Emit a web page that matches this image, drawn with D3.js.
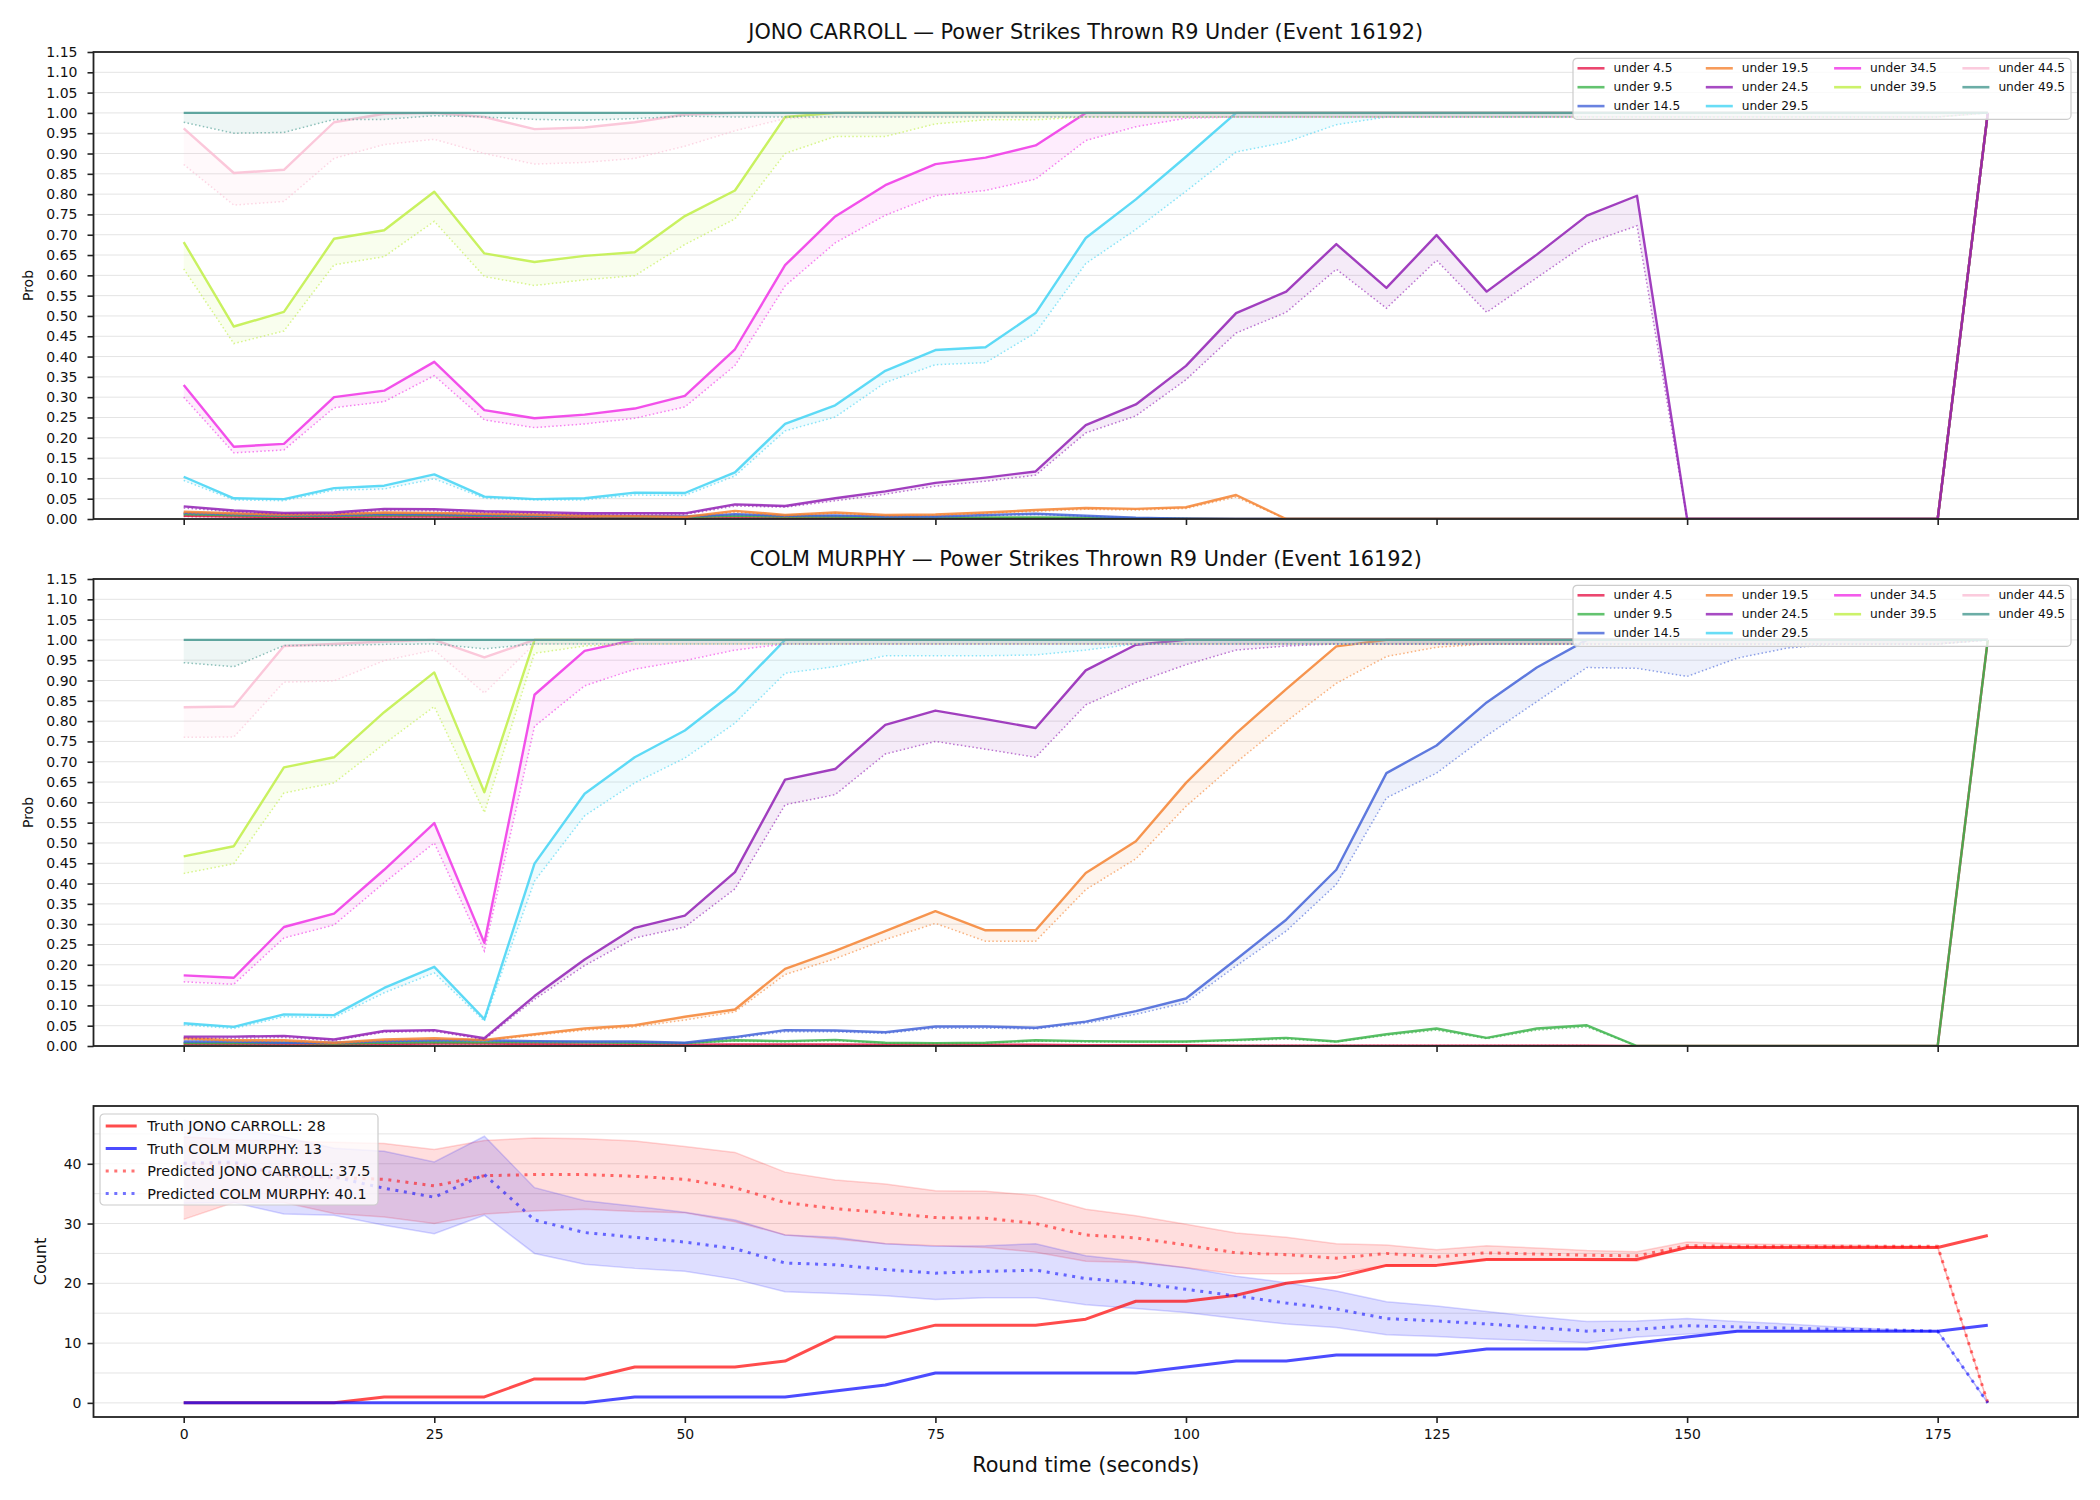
<!DOCTYPE html>
<html>
<head>
<meta charset="utf-8">
<script src="https://cdn.jsdelivr.net/npm/d3@7"></script>
<style>
  body { margin: 0; background: #fff; }
  svg text { font-family: "DejaVu Sans", sans-serif; fill: #111; }
</style>
</head>
<body>
<svg id="chart" width="2100" height="1500"></svg>
<script>
// Round time (seconds) and tick labels
const times = [0,5,10,15,20,25,30,35,40,45,50,55,60,65,70,75,80,85,90,95,100,105,110,115,120,125,130,135,140,145,150,155,160,165,170,175,180];
const xTicks = [0,25,50,75,100,125,150,175];
const probTicks = [0,0.05,0.10,0.15,0.20,0.25,0.30,0.35,0.40,0.45,0.50,0.55,0.60,0.65,0.70,0.75,0.80,0.85,0.90,0.95,1.00,1.05,1.10,1.15];
const countTicks = [0,10,20,30,40];
const countGrid = [0,5,10,15,20,25,30,35,40,45];

const thresholds = ["under 4.5","under 9.5","under 14.5","under 19.5","under 24.5","under 29.5","under 34.5","under 39.5","under 44.5","under 49.5"];
const thresholdColors = ["#e6194b","#3cb44b","#4363d8","#f58231","#911eb4","#42d4f4","#f032e6","#bfef45","#fabed4","#469990"];

// JONO CARROLL - solid line and dotted line per threshold
const jonoU4 = [0.008,0.006,0.005,0.005,0.006,0.006,0.005,0.004,0.004,0.003,0.003,0.004,0.003,0.003,0.002,0.002,0.002,0.002,0.001,0.001,0.001,0,0,0,0,0,0,0,0,0,0,0,0,0,0,0,1];
const jonoU4Dot = [0.006,0.005,0.004,0.004,0.005,0.005,0.004,0.003,0.003,0.002,0.002,0.003,0.002,0.002,0.001,0.001,0.001,0.001,0.001,0,0,0,0,0,0,0,0,0,0,0,0,0,0,0,0,0,1];
const jonoU9 = [0.012,0.009,0.008,0.008,0.010,0.010,0.008,0.007,0.007,0.006,0.005,0.008,0.006,0.006,0.004,0.004,0.004,0.004,0.003,0.002,0.001,0,0,0,0,0,0,0,0,0,0,0,0,0,0,0,1];
const jonoU9Dot = [0.010,0.008,0.006,0.007,0.008,0.008,0.007,0.006,0.006,0.005,0.004,0.007,0.005,0.005,0.003,0.003,0.003,0.003,0.002,0.001,0.001,0,0,0,0,0,0,0,0,0,0,0,0,0,0,0,1];
const jonoU14 = [0.015,0.012,0.010,0.010,0.013,0.012,0.010,0.009,0.008,0.007,0.006,0.012,0.008,0.009,0.006,0.006,0.010,0.013,0.008,0.003,0.001,0,0,0,0,0,0,0,0,0,0,0,0,0,0,0,1];
const jonoU14Dot = [0.013,0.010,0.008,0.008,0.011,0.010,0.008,0.007,0.007,0.006,0.005,0.010,0.007,0.008,0.005,0.005,0.008,0.011,0.007,0.002,0.001,0,0,0,0,0,0,0,0,0,0,0,0,0,0,0,1];
const jonoU19 = [0.018,0.014,0.011,0.012,0.016,0.015,0.013,0.011,0.008,0.007,0.005,0.020,0.010,0.016,0.010,0.011,0.016,0.022,0.027,0.025,0.029,0.059,0,0,0,0,0,0,0,0,0,0,0,0,0,0,1];
const jonoU19Dot = [0.015,0.012,0.009,0.010,0.014,0.013,0.011,0.009,0.007,0.006,0.004,0.017,0.008,0.014,0.008,0.009,0.014,0.019,0.024,0.022,0.026,0.054,0,0,0,0,0,0,0,0,0,0,0,0,0,0,1];
const jonoU24 = [0.031,0.021,0.015,0.016,0.025,0.024,0.019,0.017,0.014,0.014,0.014,0.036,0.032,0.051,0.068,0.089,0.102,0.117,0.231,0.282,0.377,0.507,0.560,0.677,0.569,0.699,0.560,0.651,0.747,0.796,0,0,0,0,0,0,1];
const jonoU24Dot = [0.027,0.018,0.012,0.013,0.021,0.020,0.016,0.014,0.011,0.011,0.011,0.032,0.029,0.045,0.061,0.081,0.093,0.108,0.212,0.254,0.343,0.458,0.509,0.615,0.519,0.637,0.509,0.594,0.679,0.722,0,0,0,0,0,0,1];
const jonoU29 = [0.104,0.051,0.049,0.076,0.082,0.110,0.055,0.049,0.051,0.065,0.064,0.115,0.234,0.280,0.365,0.416,0.423,0.507,0.692,0.787,0.892,1,1,1,1,1,1,1,1,1,1,1,1,1,1,1,1];
const jonoU29Dot = [0.095,0.047,0.045,0.071,0.074,0.099,0.051,0.047,0.047,0.059,0.058,0.106,0.217,0.251,0.336,0.380,0.385,0.459,0.629,0.713,0.807,0.904,0.928,0.971,0.99,0.99,0.99,0.99,0.99,0.99,0.99,0.99,0.99,0.99,0.99,0.99,1];
const jonoU34 = [0.330,0.178,0.185,0.300,0.316,0.387,0.268,0.248,0.257,0.272,0.303,0.418,0.625,0.745,0.822,0.874,0.890,0.920,1,1,1,1,1,1,1,1,1,1,1,1,1,1,1,1,1,1,1];
const jonoU34Dot = [0.300,0.163,0.170,0.274,0.289,0.353,0.244,0.225,0.234,0.248,0.276,0.378,0.574,0.680,0.748,0.796,0.809,0.837,0.932,0.966,0.987,0.99,0.99,0.99,0.99,0.99,0.99,0.99,0.99,0.99,0.99,0.99,0.99,0.99,0.99,0.99,1];
const jonoU39 = [0.682,0.474,0.510,0.690,0.711,0.806,0.654,0.633,0.648,0.657,0.746,0.809,0.990,1,1,1,1,1,1,1,1,1,1,1,1,1,1,1,1,1,1,1,1,1,1,1,1];
const jonoU39Dot = [0.616,0.432,0.463,0.626,0.646,0.733,0.597,0.575,0.589,0.599,0.676,0.739,0.900,0.942,0.942,0.973,0.983,0.983,0.99,0.99,0.99,0.99,0.99,0.99,0.99,0.99,0.99,0.99,0.99,0.99,0.99,0.99,0.99,0.99,0.99,0.99,1];
const jonoU44 = [0.962,0.852,0.860,0.977,0.998,1,0.990,0.960,0.964,0.977,0.996,1,1,1,1,1,1,1,1,1,1,1,1,1,1,1,1,1,1,1,1,1,1,1,1,1,1];
const jonoU44Dot = [0.873,0.773,0.782,0.888,0.922,0.935,0.900,0.874,0.878,0.888,0.918,0.956,0.986,0.99,0.99,0.99,0.99,0.99,0.99,0.99,0.99,0.99,0.99,0.99,0.99,0.99,0.99,0.99,0.99,0.99,0.99,0.99,0.99,0.99,0.99,0.99,1];
const jonoU49 = [1,1,1,1,1,1,1,1,1,1,1,1,1,1,1,1,1,1,1,1,1,1,1,1,1,1,1,1,1,1,1,1,1,1,1,1,1];
const jonoU49Dot = [0.977,0.950,0.952,0.984,0.984,0.993,0.990,0.984,0.982,0.986,0.992,0.99,0.99,0.99,0.99,0.99,0.99,0.99,0.99,0.99,0.99,0.99,0.99,0.99,0.99,0.99,0.99,0.99,0.99,0.99,0.99,0.99,0.99,0.99,0.99,0.99,1];

// COLM MURPHY - solid line and dotted line per threshold
const colmU4 = [0.005,0.005,0.005,0.004,0.005,0.006,0.006,0.005,0.004,0.004,0.003,0.004,0.004,0.004,0.003,0.003,0.003,0.003,0.002,0.002,0.002,0.001,0.001,0.001,0.001,0.001,0.001,0.001,0.001,0,0,0,0,0,0,0,1];
const colmU4Dot = [0.004,0.004,0.004,0.003,0.004,0.005,0.005,0.004,0.003,0.003,0.002,0.003,0.003,0.003,0.002,0.002,0.002,0.002,0.001,0.001,0.001,0.001,0.001,0.001,0.001,0.001,0.001,0.001,0.001,0,0,0,0,0,0,0,1];
const colmU9 = [0.007,0.007,0.008,0.006,0.008,0.010,0.009,0.010,0.009,0.008,0.007,0.014,0.012,0.015,0.008,0.007,0.008,0.014,0.012,0.011,0.011,0.015,0.020,0.011,0.029,0.043,0.020,0.043,0.051,0,0,0,0,0,0,0,1];
const colmU9Dot = [0.006,0.006,0.007,0.005,0.007,0.008,0.008,0.008,0.008,0.007,0.006,0.012,0.010,0.013,0.007,0.006,0.007,0.012,0.010,0.010,0.010,0.013,0.017,0.010,0.026,0.039,0.018,0.039,0.047,0,0,0,0,0,0,0,1];
const colmU14 = [0.011,0.011,0.008,0.008,0.012,0.014,0.014,0.012,0.011,0.011,0.008,0.022,0.039,0.038,0.034,0.048,0.048,0.045,0.060,0.086,0.117,0.213,0.311,0.434,0.672,0.740,0.846,0.932,1,1,1,1,1,1,1,1,1];
const colmU14Dot = [0.009,0.009,0.007,0.007,0.010,0.012,0.012,0.010,0.010,0.010,0.007,0.019,0.035,0.035,0.031,0.044,0.044,0.042,0.056,0.078,0.107,0.197,0.283,0.398,0.611,0.672,0.764,0.848,0.932,0.930,0.910,0.955,0.980,0.990,0.990,0.990,1];
const colmU19 = [0.019,0.014,0.014,0.008,0.016,0.019,0.015,0.029,0.043,0.051,0.072,0.090,0.190,0.234,0.283,0.332,0.285,0.285,0.426,0.504,0.648,0.770,0.879,0.984,1,1,1,1,1,1,1,1,1,1,1,1,1];
const colmU19Dot = [0.016,0.012,0.012,0.006,0.013,0.016,0.013,0.026,0.039,0.047,0.064,0.084,0.176,0.215,0.262,0.302,0.258,0.258,0.385,0.461,0.590,0.698,0.799,0.893,0.959,0.982,0.99,0.99,0.99,0.99,0.99,0.99,0.99,0.99,0.99,0.99,1];
const colmU24 = [0.023,0.023,0.025,0.016,0.037,0.039,0.019,0.123,0.213,0.291,0.321,0.428,0.656,0.682,0.791,0.826,0.805,0.783,0.925,0.988,1,1,1,1,1,1,1,1,1,1,1,1,1,1,1,1,1];
const colmU24Dot = [0.019,0.019,0.021,0.013,0.034,0.036,0.016,0.115,0.198,0.266,0.293,0.387,0.594,0.619,0.719,0.750,0.731,0.711,0.840,0.895,0.939,0.975,0.985,0.99,0.99,0.99,0.99,0.99,0.99,0.99,0.99,0.99,0.99,0.99,0.99,0.99,1];
const colmU29 = [0.056,0.047,0.078,0.076,0.143,0.195,0.066,0.449,0.621,0.711,0.777,0.873,1,1,1,1,1,1,1,1,1,1,1,1,1,1,1,1,1,1,1,1,1,1,1,1,1];
const colmU29Dot = [0.052,0.043,0.072,0.070,0.131,0.180,0.061,0.406,0.567,0.648,0.709,0.795,0.918,0.934,0.961,0.961,0.961,0.963,0.975,0.99,0.99,0.99,0.99,0.99,0.99,0.99,0.99,0.99,0.99,0.99,0.99,0.99,0.99,0.99,0.99,0.99,1];
const colmU34 = [0.174,0.168,0.293,0.326,0.434,0.549,0.254,0.865,0.973,1,1,1,1,1,1,1,1,1,1,1,1,1,1,1,1,1,1,1,1,1,1,1,1,1,1,1,1];
const colmU34Dot = [0.158,0.152,0.266,0.298,0.402,0.500,0.234,0.787,0.887,0.928,0.949,0.975,0.99,0.99,0.99,0.99,0.99,0.99,0.99,0.99,0.99,0.99,0.99,0.99,0.99,0.99,0.99,0.99,0.99,0.99,0.99,0.99,0.99,0.99,0.99,0.99,1];
const colmU39 = [0.467,0.492,0.686,0.711,0.822,0.920,0.625,1,1,1,1,1,1,1,1,1,1,1,1,1,1,1,1,1,1,1,1,1,1,1,1,1,1,1,1,1,1];
const colmU39Dot = [0.425,0.449,0.623,0.648,0.744,0.836,0.575,0.967,0.985,0.99,0.99,0.99,0.99,0.99,0.99,0.99,0.99,0.99,0.99,0.99,0.99,0.99,0.99,0.99,0.99,0.99,0.99,0.99,0.99,0.99,0.99,0.99,0.99,0.99,0.99,0.99,1];
const colmU44 = [0.834,0.836,0.985,0.990,0.996,1,0.957,1,1,1,1,1,1,1,1,1,1,1,1,1,1,1,1,1,1,1,1,1,1,1,1,1,1,1,1,1,1];
const colmU44Dot = [0.760,0.761,0.896,0.899,0.949,0.975,0.869,0.99,0.99,0.99,0.99,0.99,0.99,0.99,0.99,0.99,0.99,0.99,0.99,0.99,0.99,0.99,0.99,0.99,0.99,0.99,0.99,0.99,0.99,0.99,0.99,0.99,0.99,0.99,0.99,0.99,1];
const colmU49 = [1,1,1,1,1,1,1,1,1,1,1,1,1,1,1,1,1,1,1,1,1,1,1,1,1,1,1,1,1,1,1,1,1,1,1,1,1];
const colmU49Dot = [0.944,0.934,0.986,0.986,0.989,0.990,0.978,0.99,0.99,0.99,0.99,0.99,0.99,0.99,0.99,0.99,0.99,0.99,0.99,0.99,0.99,0.99,0.99,0.99,0.99,0.99,0.99,0.99,0.99,0.99,0.99,0.99,0.99,0.99,0.99,0.99,1];

// Count panel
const truthJono = [0,0,0,0,1,1,1,4,4,6,6,6,7,11,11,13,13,13,14,17,17,18,20,21,23,23,24,24,24,24,26,26,26,26,26,26,28];
const truthColm = [0,0,0,0,0,0,0,0,0,1,1,1,1,2,3,5,5,5,5,5,6,7,7,8,8,8,9,9,9,10,11,12,12,12,12,12,13];
const predJono = [40.0,40.1,37.9,37.7,37.4,36.3,38.0,38.2,38.2,37.9,37.4,36.0,33.5,32.5,31.8,31.0,30.9,30.0,28.1,27.6,26.4,25.1,24.8,24.2,25.0,24.4,25.1,24.9,24.7,24.6,26.3,26.2,26.2,26.2,26.2,26.2,0];
const predColm = [40.1,40.3,38.0,37.8,35.9,34.4,38.2,30.6,28.5,27.7,26.9,25.8,23.4,23.1,22.3,21.7,22.0,22.2,20.8,20.1,19.0,17.9,16.7,15.7,14.1,13.7,13.2,12.6,12.0,12.3,12.9,12.7,12.5,12.3,12.2,12.0,0];
const bandJonoHi = [44.5,44.0,43.8,43.6,43.4,42.4,43.9,44.3,44.2,43.8,42.9,41.9,38.6,37.3,36.6,35.5,35.4,34.7,32.4,31.3,29.9,28.4,27.7,26.6,26.4,25.6,26.3,25.9,25.5,25.3,26.9,26.6,26.5,26.4,26.3,26.2,0];
const bandJonoLo = [30.7,33.5,33.5,31.7,31.1,30.0,31.6,32.1,32.4,32.0,31.8,30.3,28.1,27.4,26.6,26.3,26.0,25.2,23.7,23.5,22.6,21.6,21.6,21.7,23.0,23.1,24.0,24.0,23.8,23.7,25.9,25.9,25.9,25.9,25.9,25.9,0];
const bandColmHi = [47.3,46.0,44.5,42.6,42.1,40.3,44.6,36.0,33.8,32.9,31.9,30.6,28.1,27.7,26.6,26.2,26.3,26.6,24.6,23.7,22.6,21.2,20.1,18.7,16.9,16.2,15.3,14.4,13.6,13.7,14.1,13.6,13.2,12.7,12.3,12.0,0];
const bandColmLo = [33.4,33.5,31.6,31.4,29.7,28.3,31.4,25.0,23.2,22.5,22.0,20.7,18.6,18.3,17.9,17.3,17.6,17.6,16.4,15.8,15.1,14.1,13.2,12.6,11.4,11.1,10.7,10.4,10.1,11.0,11.5,12.0,12.0,12.0,12.0,12.0,0];

const jonoSolid = [jonoU4,jonoU9,jonoU14,jonoU19,jonoU24,jonoU29,jonoU34,jonoU39,jonoU44,jonoU49];
const jonoDotted = [jonoU4Dot,jonoU9Dot,jonoU14Dot,jonoU19Dot,jonoU24Dot,jonoU29Dot,jonoU34Dot,jonoU39Dot,jonoU44Dot,jonoU49Dot];
const colmSolid = [colmU4,colmU9,colmU14,colmU19,colmU24,colmU29,colmU34,colmU39,colmU44,colmU49];
const colmDotted = [colmU4Dot,colmU9Dot,colmU14Dot,colmU19Dot,colmU24Dot,colmU29Dot,colmU34Dot,colmU39Dot,colmU44Dot,colmU49Dot];

const svg = d3.select("#chart");
const left = 93.5, right = 2078;
const x = d3.scaleLinear().domain([-9, 189]).range([left, right]);
const gridColor = "#e4e4e4";
const spineColor = "#222";

let clipCount = 0;
function clipFor(top, bottom) {
    const id = "clip" + (clipCount++);
    svg.append("clipPath").attr("id", id)
        .append("rect").attr("x", left).attr("y", top)
        .attr("width", right - left).attr("height", bottom - top);
    return "url(#" + id + ")";
}

function styleAxis(g, size) {
    g.select(".domain").remove();
    g.selectAll(".tick line").attr("stroke", spineColor).attr("stroke-width", 1.6);
    g.selectAll(".tick text").style("font-size", size + "px").attr("fill", "#111");
}

function spines(top, bottom) {
    svg.append("rect")
        .attr("x", left).attr("y", top)
        .attr("width", right - left).attr("height", bottom - top)
        .attr("fill", "none").attr("stroke", spineColor).attr("stroke-width", 1.8);
}

function bottomTicks(bottom, labels) {
    const ax = svg.append("g").attr("transform", "translate(0," + bottom + ")")
        .call(d3.axisBottom(x).tickValues(xTicks).tickSize(6).tickPadding(6)
              .tickFormat(labels ? d3.format("d") : ""));
    styleAxis(ax, 14);
}

// legend columns filled like matplotlib: 10 entries in 4 columns -> 3,3,2,2
function legendSlots(n, ncol) {
    const nrow = Math.ceil(n / ncol), extra = n % ncol || ncol;
    const slots = [];
    let c = 0, r = 0;
    for (let i = 0; i < n; i++) {
        slots.push([c, r]);
        r++;
        const len = c < extra ? nrow : nrow - 1;
        if (r >= len) { r = 0; c++; }
    }
    return slots;
}

function probPanel(top, bottom, title, solid, dotted) {
    const y = d3.scaleLinear().domain([0, 1.15]).range([bottom, top]);

    // grid
    svg.append("g").selectAll("line").data(probTicks).join("line")
        .attr("x1", left).attr("x2", right)
        .attr("y1", d => y(d)).attr("y2", d => y(d))
        .attr("stroke", gridColor).attr("stroke-width", 1);

    const plot = svg.append("g").attr("clip-path", clipFor(top, bottom));
    thresholds.forEach((name, i) => {
        const rows = times.map((t, j) => ({t: t, a: solid[i][j], b: dotted[i][j]}));
        const col = thresholdColors[i];
        plot.append("path").datum(rows)
            .attr("d", d3.area().x(d => x(d.t)).y0(d => y(d.b)).y1(d => y(d.a)))
            .attr("fill", col).attr("fill-opacity", 0.09);
        plot.append("path").datum(rows)
            .attr("d", d3.line().x(d => x(d.t)).y(d => y(d.a)))
            .attr("fill", "none").attr("stroke", col)
            .attr("stroke-opacity", 0.85).attr("stroke-width", 2.4)
            .attr("stroke-linejoin", "round");
        plot.append("path").datum(rows)
            .attr("d", d3.line().x(d => x(d.t)).y(d => y(d.b)))
            .attr("fill", "none").attr("stroke", col)
            .attr("stroke-opacity", 0.6).attr("stroke-width", 1.5)
            .attr("stroke-dasharray", "1.5,2.4");
    });

    const ay = svg.append("g").attr("transform", "translate(" + left + ",0)")
        .call(d3.axisLeft(y).tickValues(probTicks).tickSize(6).tickPadding(10)
              .tickFormat(d3.format(".2f")));
    styleAxis(ay, 14);
    bottomTicks(bottom, false);
    spines(top, bottom);

    svg.append("text")
        .attr("x", (left + right) / 2).attr("y", top - 13)
        .attr("text-anchor", "middle").style("font-size", "20.8px")
        .text(title);
    svg.append("text")
        .attr("transform", "translate(28," + (top + bottom) / 2 + ") rotate(-90)")
        .attr("text-anchor", "middle").attr("dominant-baseline", "central")
        .style("font-size", "14px").text("Prob");

    const lg = svg.append("g").attr("transform", "translate(1573," + (top + 6.3) + ")");
    lg.append("rect").attr("x", 0).attr("y", 0).attr("width", 498).attr("height", 61)
        .attr("rx", 4).attr("fill", "#fff").attr("fill-opacity", 0.8)
        .attr("stroke", "#cccccc").attr("stroke-width", 1.2);
    const slots = legendSlots(thresholds.length, 4);
    thresholds.forEach((name, i) => {
        const col = slots[i][0], row = slots[i][1];
        const ox = 4.5 + col * 128.3, oy = 10 + row * 18.9;
        lg.append("line").attr("x1", ox).attr("x2", ox + 27)
            .attr("y1", oy).attr("y2", oy)
            .attr("stroke", thresholdColors[i]).attr("stroke-opacity", 0.8)
            .attr("stroke-width", 2.6);
        lg.append("text").attr("x", ox + 36).attr("y", oy)
            .attr("dominant-baseline", "central").style("font-size", "12.2px")
            .text(name);
    });
}

probPanel(52, 519, "JONO CARROLL \u2014 Power Strikes Thrown R9 Under (Event 16192)", jonoSolid, jonoDotted);
probPanel(579, 1046, "COLM MURPHY \u2014 Power Strikes Thrown R9 Under (Event 16192)", colmSolid, colmDotted);

// count panel
(function () {
    const top = 1106, bottom = 1417;
    const allVals = [].concat(truthJono, truthColm, predJono, predColm, bandJonoHi, bandJonoLo, bandColmHi, bandColmLo);
    const lo = d3.min(allVals), hi = d3.max(allVals);
    const pad = (hi - lo) * 0.05;
    const y = d3.scaleLinear().domain([lo - pad, hi + pad]).range([bottom, top]);

    svg.append("g").selectAll("line").data(countGrid).join("line")
        .attr("x1", left).attr("x2", right)
        .attr("y1", d => y(d)).attr("y2", d => y(d))
        .attr("stroke", gridColor).attr("stroke-width", 1);

    const plot = svg.append("g").attr("clip-path", clipFor(top, bottom));
    function band(hiArr, loArr, col, op) {
        const rows = times.map((t, j) => ({t: t, h: hiArr[j], l: loArr[j]}));
        plot.append("path").datum(rows)
            .attr("d", d3.area().x(d => x(d.t)).y0(d => y(d.l)).y1(d => y(d.h)))
            .attr("fill", col).attr("fill-opacity", op);
        [d => y(d.h), d => y(d.l)].forEach(fy => {
            plot.append("path").datum(rows)
                .attr("d", d3.line().x(d => x(d.t)).y(fy))
                .attr("fill", "none").attr("stroke", col)
                .attr("stroke-opacity", op + 0.03).attr("stroke-width", 1.5);
        });
    }
    band(bandJonoHi, bandJonoLo, "#ff0000", 0.13);
    band(bandColmHi, bandColmLo, "#0000ff", 0.13);

    function series(vals, col, dotted) {
        const rows = times.map((t, j) => ({t: t, v: vals[j]}));
        const p = plot.append("path").datum(rows)
            .attr("d", d3.line().x(d => x(d.t)).y(d => y(d.v)))
            .attr("fill", "none").attr("stroke", col)
            .attr("stroke-width", 3).attr("stroke-linejoin", "round");
        if (dotted) p.attr("stroke-opacity", 0.55).attr("stroke-dasharray", "3,5.6");
        else p.attr("stroke-opacity", 0.7);
    }
    series(truthJono, "#ff0000", false);
    series(truthColm, "#0000ff", false);
    series(predJono, "#ff0000", true);
    series(predColm, "#0000ff", true);

    const ay = svg.append("g").attr("transform", "translate(" + left + ",0)")
        .call(d3.axisLeft(y).tickValues(countTicks).tickSize(6).tickPadding(6)
              .tickFormat(d3.format("d")));
    styleAxis(ay, 14);
    bottomTicks(bottom, true);
    spines(top, bottom);

    svg.append("text")
        .attr("transform", "translate(40," + (top + bottom) / 2 + ") rotate(-90)")
        .attr("text-anchor", "middle").attr("dominant-baseline", "central")
        .style("font-size", "16px").text("Count");
    svg.append("text")
        .attr("x", (left + right) / 2).attr("y", 1472)
        .attr("text-anchor", "middle").style("font-size", "20.8px")
        .text("Round time (seconds)");

    const items = [
        {label: "Truth JONO CARROLL: 28", col: "#ff0000", dotted: false},
        {label: "Truth COLM MURPHY: 13", col: "#0000ff", dotted: false},
        {label: "Predicted JONO CARROLL: 37.5", col: "#ff0000", dotted: true},
        {label: "Predicted COLM MURPHY: 40.1", col: "#0000ff", dotted: true}
    ];
    const lg = svg.append("g").attr("transform", "translate(100,1114)");
    lg.append("rect").attr("width", 278).attr("height", 91).attr("rx", 4)
        .attr("fill", "#fff").attr("fill-opacity", 0.8)
        .attr("stroke", "#cccccc").attr("stroke-width", 1.2);
    items.forEach((it, i) => {
        const oy = 12 + i * 22.5;
        const ln = lg.append("line").attr("x1", 5.7).attr("x2", 36.7)
            .attr("y1", oy).attr("y2", oy)
            .attr("stroke", it.col).attr("stroke-width", 3);
        if (it.dotted) ln.attr("stroke-opacity", 0.55).attr("stroke-dasharray", "3,5.6");
        else ln.attr("stroke-opacity", 0.7);
        lg.append("text").attr("x", 47.3).attr("y", oy)
            .attr("dominant-baseline", "central").style("font-size", "14.4px")
            .text(it.label);
    });
})();
</script>
</body>
</html>
